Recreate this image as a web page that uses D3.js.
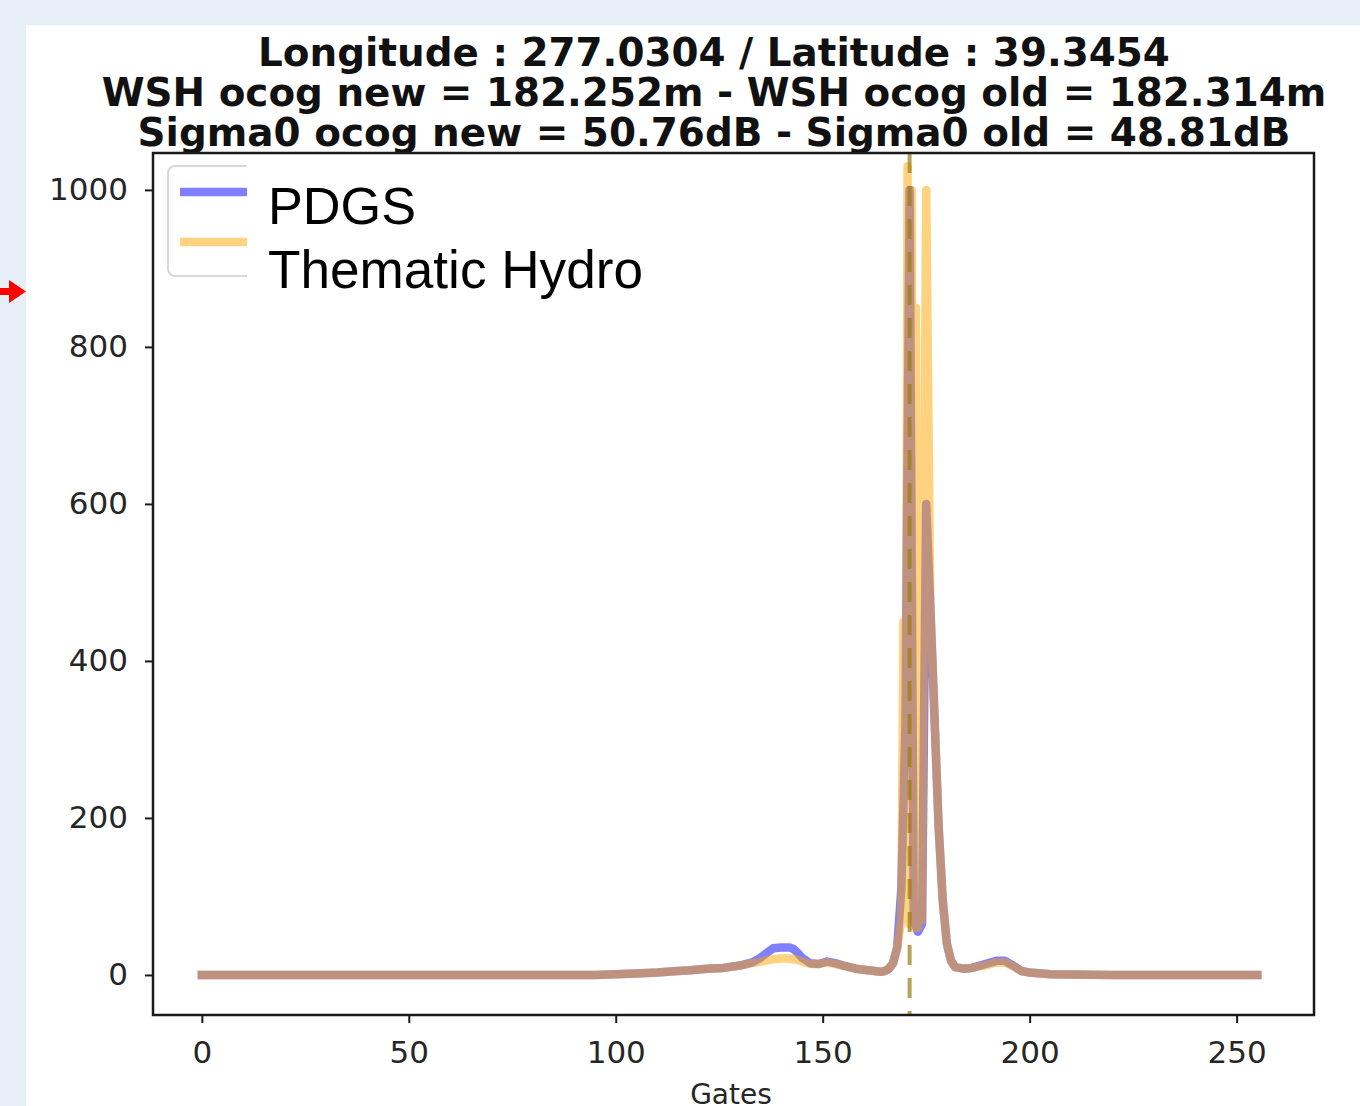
<!DOCTYPE html>
<html><head><meta charset="utf-8">
<script src="https://cdn.jsdelivr.net/npm/d3@7"></script>
<style>html,body{margin:0;padding:0;background:#e6eef8;}svg{display:block;}</style>
</head><body>
<svg id="chart" width="1360" height="1106"></svg>
<script>
// ---- data ----
const titleLines = [
  "Longitude : 277.0304 / Latitude : 39.3454",
  "WSH ocog new = 182.252m - WSH ocog old = 182.314m",
  "Sigma0 ocog new = 50.76dB - Sigma0 old = 48.81dB"
];
const seriesNames = ["PDGS", "Thematic Hydro"];
const xTicks = [0, 50, 100, 150, 200, 250];
const yTicks = [0, 200, 400, 600, 800, 1000];
const xLabel = "Gates";

const pdgsGates  = [0,95,100,105,110,115,118,122,126,130,133,135,137,138,140,142,143,144,145,147,149,151,153,155,158,161,164,165,166,167,168,169,170,171,172,173,174,175,176,177,178,179,180,181,182,184,186,188,190,192,194,196,198,200,205,220,255];
const pdgsValues = [0,0,1,2,3,5,6,8,9,12,16,22,30,34,35,35,33,28,22,15,14,17,15,12,8,6,4,5,8,15,35,110,320,1000,70,55,65,600,470,330,190,95,40,18,10,8,9,12,15,18,18,12,5,3,1,0,0];

const hydroGates  = [0,95,100,105,110,115,118,122,126,130,133,135,137,138,140,142,143,144,145,147,149,151,153,155,158,161,164,165,166,167,168,169,169.5,170,170.5,171,171.5,172,172.5,173,173.5,174,175,176,177,178,179,180,181,182,184,186,188,190,192,194,196,198,200,205,220,255];
const hydroValues = [0,0,1,2,3,5,6,8,9,12,15,17,19,20,21,21,20,19,17,14,14,16,14,12,8,6,4,5,8,15,35,70,450,70,1030,65,1000,60,850,60,550,70,1000,470,330,190,95,40,18,10,8,9,11,13,16,16,11,5,3,1,0,0];

const ocogGate = [171.0];

// ---- layout ----
const svg = d3.select("#chart");
const L = 153, R = 1314, T = 153, B = 1015;
const x = d3.scaleLinear().domain([-11.8, 268.7]).range([L, R]);
const y = d3.scaleLinear().domain([-51, 1047]).range([B, T]);

// background panel
svg.append("rect").attr("x",0).attr("y",0).attr("width",1360).attr("height",1106).attr("fill","#e6eef8");
svg.append("rect").attr("x",26).attr("y",25).attr("width",1334).attr("height",1081).attr("fill","#ffffff");

// red arrow
svg.append("path").attr("d","M0,288 L9,288 L9,280 L26,291.5 L9,303 L9,295 L0,295 Z").attr("fill","#ff0000");

function fit(sel, w){
  const cur = sel.node().getComputedTextLength();
  const fs = parseFloat(sel.attr("font-size"));
  sel.attr("font-size", fs * w / cur);
}

// title
const titleBase = [66, 106, 146];
const titleW = [912, 1225, 1153];
titleLines.forEach((t,i)=>{
  const s = svg.append("text").attr("x",714).attr("y",titleBase[i]).attr("text-anchor","middle")
    .attr("font-family","DejaVu Sans").attr("font-weight","bold").attr("font-size",35).attr("fill","#111").text(t);
  fit(s, titleW[i]);
});

// lines
const line = d3.line().x(d=>x(d[0])).y(d=>y(d[1]));
const pdgs = pdgsGates.map((g,i)=>[g,pdgsValues[i]]);
const hydro = hydroGates.map((g,i)=>[g,hydroValues[i]]);
const plot = svg.append("g");
plot.append("path").datum(pdgs).attr("d",line).attr("fill","none").attr("stroke","#0000ff").attr("stroke-opacity",0.5)
  .attr("stroke-width",8.5).attr("stroke-linejoin","round").attr("stroke-linecap","square");
plot.append("path").datum(hydro).attr("d",line).attr("fill","none").attr("stroke","#ffa500").attr("stroke-opacity",0.5)
  .attr("stroke-width",8.5).attr("stroke-linejoin","round").attr("stroke-linecap","square");

// vertical dashed ocog line
plot.selectAll("line.ocog").data(ocogGate).enter().append("line").attr("class","ocog")
  .attr("x1",d=>x(d)).attr("x2",d=>x(d)).attr("y1",T).attr("y2",B)
  .attr("stroke","#9a7a10").attr("stroke-opacity",0.7).attr("stroke-width",4).attr("stroke-dasharray","20,13");

// axes frame
svg.append("rect").attr("x",L).attr("y",T).attr("width",R-L).attr("height",B-T).attr("fill","none").attr("stroke","#1a1a1a").attr("stroke-width",2.5);

// y ticks
const yg = svg.append("g").attr("transform",`translate(${L},0)`)
  .call(d3.axisLeft(y).tickValues(yTicks).tickSize(8).tickPadding(17).tickFormat(d3.format("d")));
yg.select(".domain").remove();
yg.selectAll(".tick line").attr("stroke","#1a1a1a").attr("stroke-width",2);
yg.selectAll(".tick text").attr("font-family","DejaVu Sans").attr("font-size",31).attr("fill","#262626");

// x ticks
const xg = svg.append("g").attr("transform",`translate(0,${B})`)
  .call(d3.axisBottom(x).tickValues(xTicks).tickSize(8).tickPadding(18).tickFormat(d3.format("d")));
xg.select(".domain").remove();
xg.selectAll(".tick line").attr("stroke","#1a1a1a").attr("stroke-width",2);
xg.selectAll(".tick text").attr("font-family","DejaVu Sans").attr("font-size",31).attr("fill","#262626");

svg.append("text").attr("x",731).attr("y",1104).attr("text-anchor","middle")
  .attr("font-family","DejaVu Sans").attr("font-size",28).attr("fill","#262626").text(xLabel);

// legend
svg.append("rect").attr("x",168).attr("y",166).attr("width",130).attr("height",110).attr("rx",7)
  .attr("fill","#ffffff").attr("stroke","#d8d8d8").attr("stroke-width",2);
const legColors = ["#0000ff","#ffa500"];
const legY = [192, 242];
seriesNames.forEach((n,i)=>{
  svg.append("line").attr("x1",180).attr("x2",250).attr("y1",legY[i]).attr("y2",legY[i])
    .attr("stroke",legColors[i]).attr("stroke-opacity",0.5).attr("stroke-width",8.5);
});
svg.append("rect").attr("x",247).attr("y",158).attr("width",420).attr("height",140).attr("fill","#ffffff");
const legText = [[224,148],[288,375]];
seriesNames.forEach((n,i)=>{
  const s = svg.append("text").attr("x",268).attr("y",legText[i][0]).attr("font-family","Liberation Sans, Arial")
    .attr("font-size",52).attr("fill","#000").text(n);
  fit(s, legText[i][1]);
});
</script>
</body></html>
